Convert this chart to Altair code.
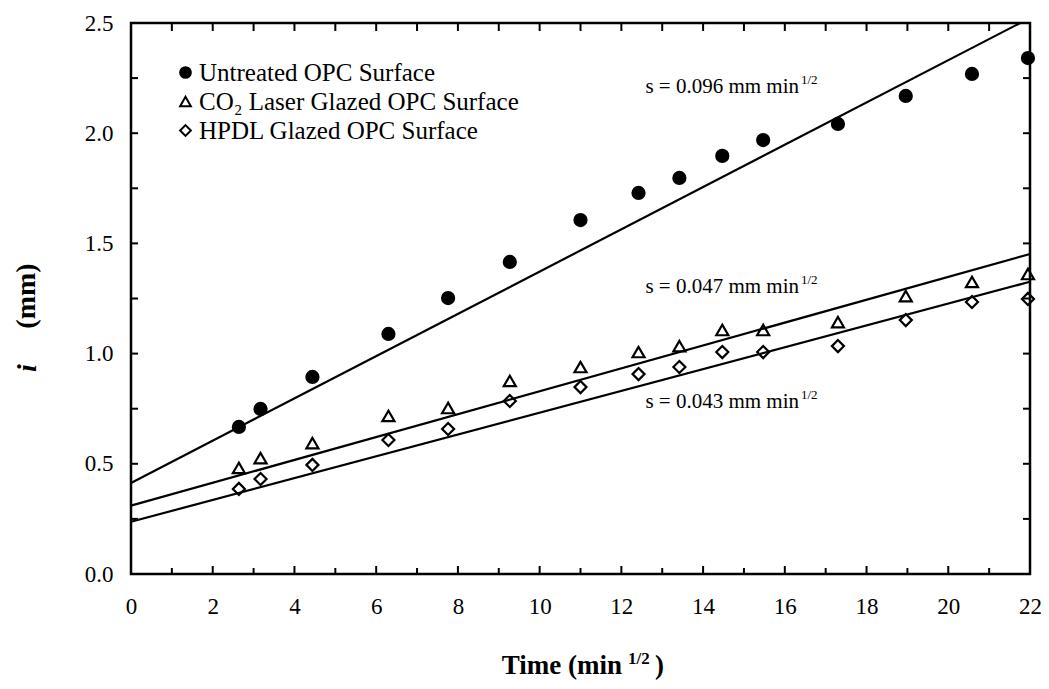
import altair as alt
import pandas as pd

# ---- data ----
time_sqrt = [2.64, 3.17, 4.44, 6.30, 7.76, 9.27, 11.0, 12.42, 13.42, 14.47, 15.47, 17.30, 18.96, 20.58, 21.95]
untreated = [0.667, 0.749, 0.894, 1.089, 1.252, 1.416, 1.606, 1.729, 1.797, 1.897, 1.969, 2.042, 2.169, 2.269, 2.341]
co2_glazed = [0.481, 0.526, 0.594, 0.717, 0.753, 0.876, 0.939, 1.007, 1.034, 1.107, 1.107, 1.143, 1.261, 1.325, 1.361]
hpdl_glazed = [0.386, 0.431, 0.495, 0.608, 0.658, 0.785, 0.848, 0.907, 0.939, 1.007, 1.007, 1.034, 1.152, 1.234, 1.248]

series_names = ["Untreated OPC Surface", "CO\u2082 Laser Glazed OPC Surface", "HPDL Glazed OPC Surface"]

# fitted lines (end points)
fit_untreated_x = [0, 21.76]
fit_untreated_y = [0.413, 2.5]
fit_co2_x = [0, 22]
fit_co2_y = [0.31, 1.452]
fit_hpdl_x = [0, 22]
fit_hpdl_y = [0.237, 1.326]

slope_texts = ["s = 0.096 mm min", "s = 0.047 mm min", "s = 0.043 mm min"]

x_major = list(range(0, 23, 2))
x_minor = list(range(1, 23, 2))
x_all = list(range(0, 23))
y_ticks = [i * 0.25 for i in range(11)]
y_labels = [i * 0.5 for i in range(6)]

# ---- layout ----
W, H = 899, 551
FONT = "Liberation Serif, Times New Roman, Times, DejaVu Serif, serif"

rows = []
for name, vals in zip(series_names, [untreated, co2_glazed, hpdl_glazed]):
    for t, v in zip(time_sqrt, vals):
        rows.append({"series": name, "time": t, "value": v})
df = pd.DataFrame(rows)

fit_rows = []
for name, xs, ys in zip(series_names,
                        [fit_untreated_x, fit_co2_x, fit_hpdl_x],
                        [fit_untreated_y, fit_co2_y, fit_hpdl_y]):
    for xv, yv in zip(xs, ys):
        fit_rows.append({"series": name, "time": xv, "value": yv})
df_fit = pd.DataFrame(fit_rows)

xscale = alt.Scale(domain=[0, 22], nice=False, zero=False)
yscale = alt.Scale(domain=[0, 2.5], nice=False, zero=False)

xaxis = alt.Axis(values=x_major, format="d", ticks=False, domain=False, grid=False,
                 labelFont=FONT, labelFontSize=23, labelColor="black", labelPadding=21,
                 title=None, labelFlush=False)
yaxis = alt.Axis(values=y_labels, format=".1f", ticks=False, domain=False, grid=False,
                 labelFont=FONT, labelFontSize=23, labelColor="black", labelPadding=18,
                 title=None, labelFlush=False)

X = alt.X("time:Q", scale=xscale, axis=xaxis)
Y = alt.Y("value:Q", scale=yscale, axis=yaxis)

points = alt.Chart(df).mark_point(size=145, strokeWidth=2.2, opacity=1).encode(
    x=X,
    y=Y,
    shape=alt.Shape("series:N",
                    scale=alt.Scale(domain=series_names, range=["circle", "triangle-up", "diamond"]),
                    legend=alt.Legend(title=None)),
    fill=alt.Fill("series:N",
                  scale=alt.Scale(domain=series_names, range=["black", "transparent", "transparent"]),
                  legend=alt.Legend(title=None)),
    stroke=alt.Stroke("series:N",
                      scale=alt.Scale(domain=series_names, range=["black", "black", "black"]),
                      legend=alt.Legend(title=None)),
)

lines = alt.Chart(df_fit).mark_line(color="black", strokeWidth=2.2).encode(
    x=X, y=Y, detail="series:N"
)

# inward ticks on all four sides
tick_x_major = pd.DataFrame({"t": x_major})
tick_x_minor = pd.DataFrame({"t": x_minor})
tick_x_all = pd.DataFrame({"t": x_all})
tick_y = pd.DataFrame({"t": y_ticks})

bx_major = alt.Chart(tick_x_major).mark_rule(color="black", strokeWidth=2).encode(
    x=alt.X("t:Q", scale=xscale, axis=xaxis), y=alt.value(H + 1), y2=alt.value(H - 8))
bx_minor = alt.Chart(tick_x_minor).mark_rule(color="black", strokeWidth=2).encode(
    x=alt.X("t:Q", scale=xscale, axis=xaxis), y=alt.value(H + 1), y2=alt.value(H - 6))
tx = alt.Chart(tick_x_all).mark_rule(color="black", strokeWidth=2).encode(
    x=alt.X("t:Q", scale=xscale, axis=xaxis), y=alt.value(0), y2=alt.value(8))
ly = alt.Chart(tick_y).mark_rule(color="black", strokeWidth=2).encode(
    y=alt.Y("t:Q", scale=yscale, axis=yaxis), x=alt.value(0), x2=alt.value(7))
ry = alt.Chart(tick_y).mark_rule(color="black", strokeWidth=2).encode(
    y=alt.Y("t:Q", scale=yscale, axis=yaxis), x=alt.value(W), x2=alt.value(W - 7))

one = pd.DataFrame({"a": [0]})

def txt(text, x, y, size, align="left", baseline="alphabetic", weight="normal", style="normal", angle=0):
    kw = dict(text=text, font=FONT, fontSize=size, align=align, baseline=baseline,
              fontWeight=weight, fontStyle=style, color="black")
    if angle:
        kw["angle"] = angle
    return alt.Chart(one).mark_text(**kw).encode(x=alt.value(x), y=alt.value(y))

# slope annotations
ann_pos = [(511, 70), (511, 270), (511, 385)]
anns = []
for s, (ax, ay) in zip(slope_texts, ann_pos):
    anns.append(txt(s, ax + 157, ay, 21, align="right"))
    anns.append(txt("1/2", ax + 159, ay - 9, 13))

# axis titles
titles = [
    txt("Time (min", 491, 651, 27, align="right", weight="bold"),
    txt("1/2", 497, 641, 17, align="left", weight="bold"),
    txt(")", 524, 651, 27, align="left", weight="bold"),
    txt("(mm)", -104, 273, 28, align="center", baseline="middle", weight="bold", angle=270),
    txt("i", -103, 345, 28, align="center", baseline="middle", weight="bold", style="italic", angle=270),
]

chart = alt.layer(lines, bx_major, bx_minor, tx, ly, ry, points, *anns, *titles).properties(
    width=W,
    height=H,
    autosize=alt.AutoSizeParams(type="none"),
    padding={"left": 123, "top": 15, "right": 11, "bottom": 106},
    background="white",
).configure_view(
    stroke="black", strokeWidth=2.5
).configure_legend(
    orient="none",
    legendX=42,
    legendY=37,
    labelFont=FONT,
    labelFontSize=25,
    labelColor="black",
    labelLimit=500,
    symbolSize=115,
    symbolStrokeWidth=2,
    rowPadding=3,
    labelOffset=1,
)

chart.save("out.html", embed_options={"renderer": "svg", "actions": False})
